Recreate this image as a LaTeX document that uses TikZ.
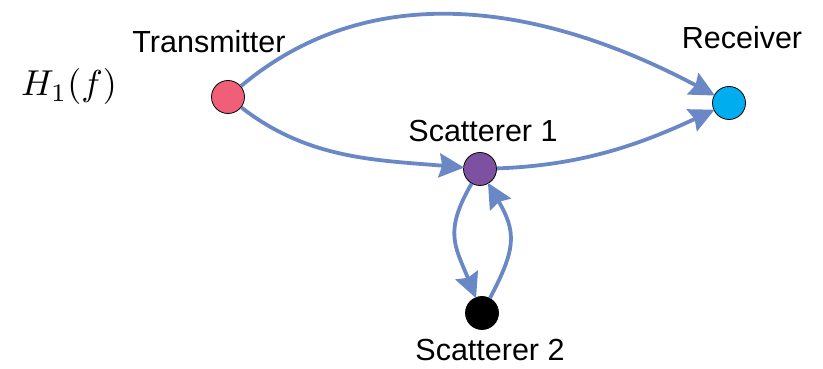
\documentclass[tikz,border=0pt]{standalone}
\usepackage{fontspec}
\setmainfont{Liberation Sans}
\usetikzlibrary{arrows.meta}
\definecolor{edgeblue}{HTML}{6B88C6}
\definecolor{txpink}{HTML}{F05E78}
\definecolor{rxcyan}{HTML}{00AEEF}
\definecolor{scpurple}{HTML}{7E50A0}
\begin{document}
\begin{tikzpicture}[x=1pt,y=1pt,
  dot/.style={circle,draw=black,line width=0.8pt,minimum size=33pt,inner sep=0pt},
  lbl/.style={font=\fontsize{30.5}{36}\selectfont},
  link/.style={draw=edgeblue,line width=3.8pt,-{Stealth[length=25pt,width=24pt,inset=3pt]},shorten >=-1pt}
]
\useasboundingbox (0,0) rectangle (823,369);
\node[dot,fill=txpink] (tx) at (228,272) {};
\node[dot,fill=rxcyan] (rx) at (729,266) {};
\node[dot,fill=scpurple] (s1) at (480,200) {};
\node[dot,fill=black] (s2) at (482,56) {};
\node[lbl] (ltx) at (209,327) {Transmitter};
\node[lbl] (lrx) at (742,331) {Receiver};
\node[lbl] (ls1) at (483,238) {Scatterer 1};
\node[lbl] (ls2) at (490,19) {Scatterer 2};
\node[scale=3.6] (h) at (69,282) {$H_1(f)$};
\draw[link] (tx) to[out=40,in=152,looseness=0.97] (rx);
\draw[link] (tx) to[out=-38,in=175,looseness=0.95] (s1);
\draw[link] (s1) to[out=2,in=205,looseness=0.95] (rx);
\draw[link] (s1) to[out=-120,in=112,looseness=1.25] (s2);
\draw[link] (s2) to[out=62,in=-60,looseness=1.25] (s1);
\end{tikzpicture}
\end{document}
